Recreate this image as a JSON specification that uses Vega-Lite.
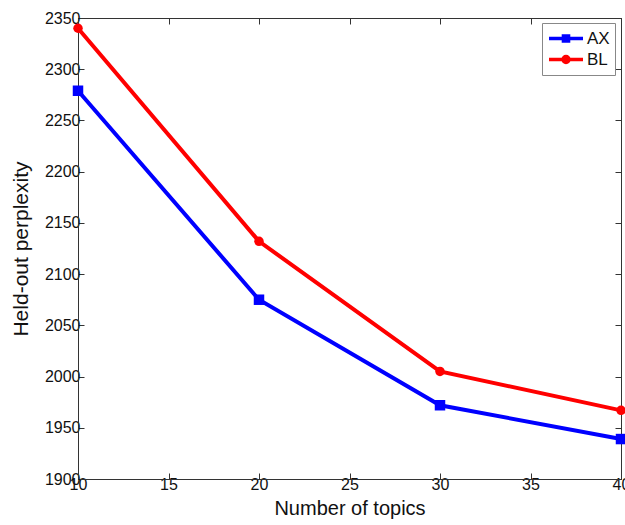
{
  "$schema": "https://vega.github.io/schema/vega-lite/v6.json",
  "width": 543,
  "height": 461,
  "autosize": {"type": "none"},
  "padding": {"left": 78, "top": 18, "right": 4, "bottom": 46},
  "background": "white",
  "config": {
    "font": "Liberation Sans",
    "view": {"stroke": "#333", "strokeWidth": 1},
    "axis": {
      "grid": false,
      "domainColor": "#333",
      "tickColor": "#333",
      "tickSize": -6,
      "labelColor": "#111",
      "labelFontSize": 16,
      "titleFontSize": 20,
      "titleFontWeight": "normal",
      "titleColor": "#111",
      "format": "d"
    }
  },
  "data": {
    "values": [
      {"topics": 10, "perplexity": 2279, "series": "AX"},
      {"topics": 20, "perplexity": 2075, "series": "AX"},
      {"topics": 30, "perplexity": 1972, "series": "AX"},
      {"topics": 40, "perplexity": 1939, "series": "AX"},
      {"topics": 10, "perplexity": 2340, "series": "BL"},
      {"topics": 20, "perplexity": 2132, "series": "BL"},
      {"topics": 30, "perplexity": 2005, "series": "BL"},
      {"topics": 40, "perplexity": 1967, "series": "BL"}
    ]
  },
  "resolve": {"axis": {"x": "independent", "y": "independent"}},
  "layer": [
    {
      "mark": {"type": "line", "strokeWidth": 4, "clip": false},
      "encoding": {
        "x": {"field": "topics", "type": "quantitative", "scale": {"domain": [10, 40], "nice": false, "zero": false},
          "axis": {"values": [10, 15, 20, 25, 30, 35, 40], "title": "Number of topics", "labelPadding": 3, "titlePadding": 6, "labelFlush": false}},
        "y": {"field": "perplexity", "type": "quantitative", "scale": {"domain": [1900, 2350], "nice": false, "zero": false},
          "axis": {"values": [1900, 1950, 2000, 2050, 2100, 2150, 2200, 2250, 2300, 2350], "title": "Held-out perplexity", "titleFontSize": 21, "labelPadding": 4, "titlePadding": 13, "labelFlush": false}},
        "color": {"field": "series", "type": "nominal", "scale": {"domain": ["AX", "BL"], "range": ["#0000FF", "#FF0000"]}}
      }
    },
    {
      "transform": [{"filter": "datum.series === 'AX'"}],
      "mark": {"type": "point", "shape": "square", "filled": true, "size": 110, "opacity": 1, "clip": false},
      "encoding": {
        "x": {"field": "topics", "type": "quantitative", "axis": {"orient": "top", "values": [10, 15, 20, 25, 30, 35, 40], "labels": false, "title": null}},
        "y": {"field": "perplexity", "type": "quantitative", "axis": {"orient": "right", "values": [1900, 1950, 2000, 2050, 2100, 2150, 2200, 2250, 2300, 2350], "labels": false, "title": null}},
        "color": {"field": "series", "type": "nominal"}
      }
    },
    {
      "transform": [{"filter": "datum.series === 'BL'"}],
      "mark": {"type": "point", "shape": "circle", "filled": true, "size": 90, "opacity": 1, "clip": false},
      "encoding": {
        "x": {"field": "topics", "type": "quantitative", "axis": null},
        "y": {"field": "perplexity", "type": "quantitative", "axis": null},
        "color": {"field": "series", "type": "nominal"}
      }
    },
    {
      "mark": {"type": "point", "size": 1, "opacity": 1, "strokeWidth": 3, "filled": false},
      "encoding": {
        "x": {"field": "topics", "type": "quantitative", "axis": null},
        "y": {"field": "perplexity", "type": "quantitative", "axis": null},
        "color": {"field": "series", "type": "nominal",
          "legend": {"title": null, "orient": "none", "legendX": 464, "legendY": 5, "strokeColor": "#888", "fillColor": "white", "padding": 5, "labelFontSize": 17, "labelColor": "#111", "symbolSize": 289, "symbolStrokeWidth": 3.5, "rowPadding": 0, "labelOffset": 19,
            "encode": {"symbols": {"update": {"fill": {"scale": "color", "field": "value"}, "stroke": {"scale": "color", "field": "value"}, "opacity": {"value": 1}}}}}},
        "shape": {"field": "series", "type": "nominal", "scale": {"domain": ["AX", "BL"], "range": ["M-1,0H3M0.7,-0.3H1.3V0.3H0.7Z", "M-1,0H3M0.65,0A0.35,0.35 0 1,0 1.35,0A0.35,0.35 0 1,0 0.65,0Z"]},
          "legend": {"title": null}}
      }
    }
  ]
}
